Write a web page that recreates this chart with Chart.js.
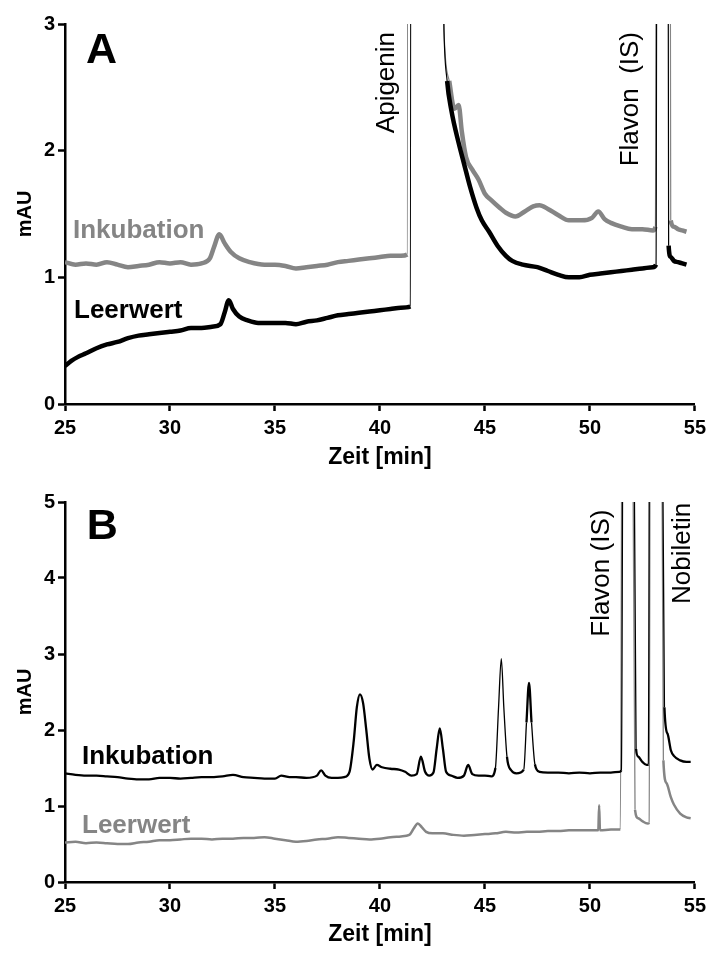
<!DOCTYPE html>
<html><head><meta charset="utf-8">
<script src="https://cdn.jsdelivr.net/npm/chart.js@4.4.0/dist/chart.umd.min.js"></script>
<style>
html,body{margin:0;padding:0;background:#fff;}
#wrap{position:relative;width:711px;height:954px;background:#fff;}
.box{position:absolute;left:0;width:711px;}
</style></head><body>
<div id="wrap">
<div class="box" style="top:0;height:477px"><canvas id="cA" width="711" height="477"></canvas></div>
<div class="box" style="top:478px;height:476px"><canvas id="cB" width="711" height="476"></canvas></div>
</div>
<script>
// ---------- axes ----------
const xTicks = [25, 30, 35, 40, 45, 50, 55];
const yTicksA = [0, 1, 2, 3];
const yTicksB = [0, 1, 2, 3, 4, 5];

// ---------- Panel A data ----------
const timeA_leer = [25.0,25.3,25.6,26.0,26.5,27.0,27.5,28.0,28.5,29.0,29.5,30.0,30.5,31.0,31.5,32.0,32.4,32.6,32.8,33.0,33.3,33.7,34.2,35.0,35.5,36.0,36.5,37.0,37.5,38.0,38.5,39.0,39.5,40.0,40.5,41.0,41.45,41.55,42.95,43.05,43.2,43.4,43.75,44.0,44.3,44.6,44.85,45.2,45.6,46.0,46.3,46.8,47.5,48.0,48.5,49.0,49.5,50.0,50.5,51.0,51.5,52.0,52.5,53.0,53.15,53.25,53.65,53.75,53.85,54.0,54.2,54.4,54.6];
const mAU_A_leer = [0.30,0.34,0.37,0.40,0.44,0.47,0.49,0.52,0.54,0.55,0.56,0.57,0.58,0.60,0.60,0.61,0.63,0.72,0.82,0.75,0.69,0.66,0.64,0.64,0.64,0.63,0.65,0.66,0.68,0.70,0.71,0.72,0.73,0.74,0.75,0.76,0.77,30,4.0,2.95,2.55,2.32,2.06,1.90,1.71,1.55,1.45,1.36,1.25,1.17,1.13,1.10,1.08,1.05,1.02,1.00,1.00,1.02,1.03,1.04,1.05,1.06,1.07,1.08,1.10,12,12,1.25,1.16,1.13,1.12,1.11,1.10];

const timeA_ink = [25.0,25.5,26.0,26.5,27.0,27.5,28.0,28.5,29.0,29.5,30.0,30.5,31.0,31.5,31.9,32.1,32.35,32.6,32.9,33.3,33.8,34.5,35.0,35.5,36.0,36.5,37.0,37.5,38.0,38.5,39.0,39.5,40.0,40.5,41.0,41.3,41.4,42.95,43.05,43.3,43.55,43.75,43.9,44.1,44.4,44.7,45.0,45.3,45.7,46.0,46.45,46.9,47.3,47.6,48.0,48.5,49.0,49.6,50.1,50.4,50.7,51.0,51.5,52.0,52.5,53.0,53.12,53.22,53.75,53.85,54.0,54.2,54.4,54.6];
const mAU_A_ink = [1.12,1.10,1.11,1.10,1.12,1.10,1.08,1.09,1.10,1.12,1.11,1.12,1.10,1.11,1.15,1.24,1.34,1.27,1.20,1.15,1.12,1.10,1.10,1.09,1.07,1.08,1.09,1.10,1.12,1.13,1.14,1.15,1.16,1.17,1.17,1.18,30,4.0,2.95,2.55,2.33,2.36,2.15,1.95,1.85,1.77,1.66,1.61,1.55,1.51,1.48,1.52,1.56,1.57,1.54,1.49,1.45,1.45,1.47,1.52,1.46,1.43,1.40,1.38,1.38,1.37,1.40,12,12,1.45,1.40,1.38,1.37,1.36];

// ---------- Panel B data ----------
const timeB_ink = [25.0,25.5,26.0,26.5,27.0,27.5,28.0,28.5,29.0,29.5,30.0,30.5,31.0,31.5,32.0,32.5,33.0,33.5,34.0,34.5,35.0,35.3,35.7,36.0,36.5,37.0,37.2,37.4,37.7,38.0,38.3,38.55,38.75,38.9,39.05,39.2,39.35,39.5,39.65,39.85,40.1,40.5,40.9,41.2,41.5,41.75,41.95,42.15,42.35,42.55,42.7,42.85,43.0,43.15,43.4,43.7,44.0,44.2,44.4,44.7,45.0,45.3,45.5,45.65,45.78,45.9,46.05,46.25,46.5,46.85,46.98,47.1,47.22,47.38,47.6,48.0,48.5,49.0,49.5,50.0,50.5,51.0,51.4,51.5,51.62,52.0,52.2,52.3,52.5,52.7,52.78,52.88,53.35,53.55,53.7,53.86,54.0,54.3,54.6,54.8];
const mAU_B_ink = [1.43,1.41,1.40,1.40,1.39,1.38,1.36,1.35,1.35,1.37,1.37,1.36,1.37,1.38,1.38,1.39,1.41,1.38,1.37,1.36,1.36,1.40,1.38,1.38,1.37,1.40,1.47,1.40,1.37,1.37,1.38,1.45,1.85,2.30,2.47,2.35,2.00,1.62,1.48,1.54,1.51,1.49,1.48,1.45,1.40,1.42,1.65,1.45,1.40,1.44,1.75,2.02,1.75,1.45,1.40,1.37,1.40,1.54,1.42,1.40,1.40,1.39,1.50,2.30,2.94,2.30,1.65,1.47,1.43,1.48,2.10,2.62,2.10,1.55,1.45,1.44,1.44,1.43,1.44,1.43,1.44,1.44,1.45,1.47,10,10,1.75,1.65,1.58,1.54,1.55,10,10,2.30,1.95,1.73,1.66,1.60,1.58,1.58];

const timeB_leer = [25.0,25.5,26.0,26.5,27.0,27.5,28.0,28.5,29.0,29.5,30.0,30.5,31.0,31.5,32.0,32.5,33.0,33.5,34.0,34.5,35.0,35.5,36.0,36.5,37.0,37.5,38.0,38.5,39.0,39.5,40.0,40.5,41.0,41.4,41.6,41.8,42.0,42.2,42.5,43.0,43.5,44.0,44.5,45.0,45.5,46.0,46.5,47.0,47.5,48.0,48.5,49.0,49.5,50.0,50.4,50.44,50.48,51.0,51.45,51.57,51.95,52.15,52.3,52.5,52.75,52.82,52.9,53.35,53.5,53.65,53.85,54.0,54.3,54.6,54.8];
const mAU_B_leer = [0.52,0.53,0.51,0.52,0.51,0.50,0.50,0.52,0.53,0.55,0.55,0.56,0.57,0.57,0.56,0.57,0.57,0.58,0.58,0.59,0.57,0.55,0.53,0.54,0.56,0.57,0.59,0.58,0.57,0.56,0.57,0.59,0.60,0.62,0.70,0.77,0.72,0.66,0.64,0.64,0.62,0.61,0.62,0.63,0.64,0.66,0.65,0.66,0.66,0.67,0.67,0.68,0.68,0.68,0.68,1.01,0.68,0.69,0.69,10,10,0.95,0.84,0.80,0.77,0.78,10,10,1.60,1.30,1.12,1.02,0.90,0.85,0.84];

// ---------- styling ----------
const FONT = '"Liberation Sans", Arial, Helvetica, sans-serif';
const BLACK = '#000000';
const GREY = '#858585';

function pts(ts, vs) { return ts.map((t, i) => ({x: t, y: vs[i]})); }

// near-vertical segments (peak flanks) are drawn thin, baseline segments thick
function seg(thick, thin) {
  return {
    borderWidth: c => {
      const dx = Math.abs(c.p1.x - c.p0.x), dy = Math.abs(c.p1.y - c.p0.y);
      return (dy > 40 && dy > 7 * dx) ? thin : thick;
    }
  };
}

const textPlugin = {
  id: 'txt',
  afterDraw(chart, args, opts) {
    const {ctx, scales: {x, y}} = chart;
    (opts.items || []).forEach(it => {
      ctx.save();
      ctx.font = it.font;
      ctx.fillStyle = it.color;
      ctx.translate(x.getPixelForValue(it.x), y.getPixelForValue(it.y));
      if (it.rot) ctx.rotate(it.rot);
      ctx.textAlign = it.align;
      ctx.textBaseline = it.baseline;
      ctx.fillText(it.text, 0, 0);
      ctx.restore();
    });
  }
};

function makeChart(id, datasets, yTicks, xH, items) {
  const ymax = yTicks[yTicks.length - 1];
  return new Chart(document.getElementById(id), {
    type: 'line',
    data: {datasets},
    plugins: [textPlugin],
    options: {
      responsive: false,
      animation: false,
      parsing: false,
      normalized: true,
      layout: {padding: {top: 24, right: 14, left: 0, bottom: 0}},
      elements: {point: {radius: 0}, line: {tension: 0, borderJoinStyle: 'round'}},
      plugins: {legend: {display: false}, tooltip: {enabled: false}, txt: {items}},
      scales: {
        x: {
          type: 'linear', min: xTicks[0], max: xTicks[xTicks.length - 1],
          afterBuildTicks: s => { s.ticks = xTicks.map(v => ({value: v})); },
          afterFit: s => { s.height = xH; },
          ticks: {color: BLACK, padding: 5, maxRotation: 0, font: {family: FONT, size: 20, weight: 'bold'}},
          grid: {drawOnChartArea: false, drawTicks: true, tickLength: 7, tickWidth: 2.5, tickColor: BLACK},
          border: {display: true, color: BLACK, width: 2.5},
          title: {display: true, text: 'Zeit [min]', color: BLACK, font: {family: FONT, size: 23, weight: 'bold'}, padding: {top: 0, bottom: 6}}
        },
        y: {
          type: 'linear', min: 0, max: ymax,
          afterBuildTicks: s => { s.ticks = yTicks.map(v => ({value: v})); },
          afterFit: s => { s.width = 65; },
          ticks: {color: BLACK, padding: 3, font: {family: FONT, size: 20, weight: 'bold'}},
          grid: {drawOnChartArea: false, drawTicks: true, tickLength: 7, tickWidth: 2.5, tickColor: BLACK},
          border: {display: true, color: BLACK, width: 2.5},
          title: {display: true, text: 'mAU', color: BLACK, font: {family: FONT, size: 20, weight: 'bold'}, padding: {top: 13, bottom: 0}}
        }
      }
    }
  });
}

const boldF = s => 'bold ' + s + 'px ' + FONT;
const regF = s => s + 'px ' + FONT;
const UP = -Math.PI / 2;

makeChart('cA', [
  {label: 'Leerwert', data: pts(timeA_leer, mAU_A_leer), borderColor: BLACK, borderWidth: 4.5, cubicInterpolationMode: 'monotone', segment: seg(4.5, 1.2)},
  {label: 'Inkubation', data: pts(timeA_ink, mAU_A_ink), borderColor: GREY, borderWidth: 4.5, cubicInterpolationMode: 'monotone', segment: seg(4.5, 1.2)}
], yTicksA, 73, [
  {text: 'A', x: 26.0, y: 2.69, font: boldF(43), color: BLACK, align: 'left', baseline: 'alphabetic'},
  {text: 'Inkubation', x: 25.38, y: 1.366, font: boldF(26), color: GREY, align: 'left', baseline: 'middle'},
  {text: 'Leerwert', x: 25.43, y: 0.734, font: boldF(26), color: BLACK, align: 'left', baseline: 'middle'},
  {text: 'Apigenin', x: 40.66, y: 2.937, font: regF(26), color: BLACK, align: 'right', baseline: 'alphabetic', rot: UP},
  {text: 'Flavon  (IS)', x: 52.27, y: 2.937, font: regF(26), color: BLACK, align: 'right', baseline: 'alphabetic', rot: UP}
]);

makeChart('cB', [
  {label: 'Inkubation', data: pts(timeB_ink, mAU_B_ink), borderColor: BLACK, borderWidth: 2.3, cubicInterpolationMode: 'monotone', segment: seg(2.3, 1.3)},
  {label: 'Leerwert', data: pts(timeB_leer, mAU_B_leer), borderColor: GREY, borderWidth: 2.5, cubicInterpolationMode: 'monotone', segment: seg(2.5, 1.3)}
], yTicksB, 72, [
  {text: 'B', x: 26.04, y: 4.516, font: boldF(43), color: BLACK, align: 'left', baseline: 'alphabetic'},
  {text: 'Inkubation', x: 25.81, y: 1.642, font: boldF(26), color: BLACK, align: 'left', baseline: 'middle'},
  {text: 'Leerwert', x: 25.81, y: 0.745, font: boldF(26), color: GREY, align: 'left', baseline: 'middle'},
  {text: 'Flavon (IS)', x: 50.91, y: 4.90, font: regF(26), color: BLACK, align: 'right', baseline: 'alphabetic', rot: UP},
  {text: 'Nobiletin', x: 54.76, y: 4.99, font: regF(26), color: BLACK, align: 'right', baseline: 'alphabetic', rot: UP}
]);
</script>
</body></html>
